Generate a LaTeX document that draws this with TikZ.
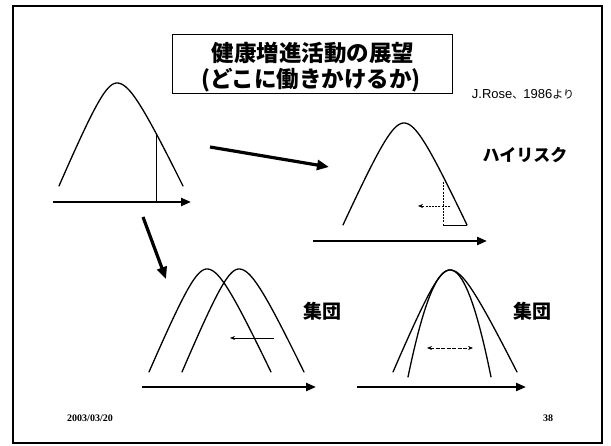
\documentclass[tikz,border=0pt]{standalone}
\usepackage{fontspec}
\usetikzlibrary{arrows.meta}
\newfontfamily\jp{Noto Sans CJK JP}
\newfontfamily\lsans{Liberation Sans}
\newfontfamily\lserif{Liberation Serif}
% #1 peak x, #2 peak y, #3 left half-width, #4 right half-width, #5 height, #6 roundness of top
\newcommand\bellcurve[6]{%
  \draw[curve] plot[domain=-1:1,samples=81,smooth]
    ({#1+(\x<0?#3:#4)*\x},{#2+#5*(sqrt(#6*#6+\x*\x)-#6)/(sqrt(#6*#6+1)-#6)});}
\begin{document}
\begin{tikzpicture}[x=1pt,y=-1pt,
  curve/.style={line width=1.3pt,line cap=round},
  axis/.style={line width=2.2pt,-{Triangle[length=10pt,width=8pt]}},
  bigarrow/.style={line width=3.2pt,-{Triangle[length=12pt,width=10pt]}},
  thinline/.style={line width=0.6pt},
  dashline/.style={line width=0.6pt,dash pattern=on 2pt off 1.2pt},
  shiftarrow/.style={line width=0.8pt,-{Stealth[length=5pt,width=4pt]}},
  spreadarrow/.style={line width=0.8pt,dash pattern=on 4pt off 1.5pt,{Stealth[length=5pt,width=4pt]}-{Stealth[length=5pt,width=4pt]}},
  titlebox/.style={draw,line width=0.8pt,minimum width=280pt,minimum height=59pt,inner sep=0pt},
  titletext/.style={font=\jp\bfseries\fontsize{22.5}{24}\selectfont,inner sep=0pt},
  jplabel/.style={font=\jp\bfseries,inner sep=0pt},
  footer/.style={font=\lserif\bfseries\fontsize{10}{11}\selectfont,inner sep=0pt}]
\useasboundingbox (0,0) rectangle (611,446);
% frame
\draw[line width=2pt] (13,6) rectangle (602,443);
% title
\node[titlebox] (title) at (312,63.5) {};
\node[titletext] (t1) at (313,53) {健康増進活動の展望};
\node[titletext] (t2) at (311,80) {(どこに働きかけるか)};
\node[inner sep=0pt] (src) at (523,94) {{\lsans\fontsize{13}{14}\selectfont J.Rose}{\jp\fontsize{11}{13}\selectfont 、}{\lsans\fontsize{13}{14}\selectfont 1986}{\jp\fontsize{11}{13}\selectfont より}};
% first distribution
\bellcurve{117}{83}{58}{66}{103}{0.3}
\coordinate (ax1s) at (53,202);
\coordinate (ax1e) at (191,202);
\draw[axis] (ax1s) -- (ax1e);
\coordinate (cut1t) at (156,134);
\coordinate (cut1b) at (156,202);
\draw[thinline] (cut1t) -- (cut1b);
% big arrows
\coordinate (b1s) at (210,147);
\coordinate (b1e) at (329,167);
\draw[bigarrow] (b1s) -- (b1e);
\coordinate (b2s) at (143,217);
\coordinate (b2e) at (166,279);
\draw[bigarrow] (b2s) -- (b2e);
% high risk
\bellcurve{404}{123}{61}{63}{102}{0.3}
\coordinate (ax2s) at (313,241);
\coordinate (ax2e) at (487,241);
\draw[axis] (ax2s) -- (ax2e);
\coordinate (hrt) at (443,182);
\coordinate (hrb) at (443,225);
\coordinate (hrr) at (467,225);
\draw[dashline] (hrt) -- (hrb);
\draw[thinline] (hrb) -- (hrr);
\coordinate (hras) at (450,206);
\coordinate (hrae) at (418,206);
\draw[dashline,-{Stealth[length=5pt,width=4pt]}] (hras) -- (hrae);
\node[jplabel,font=\jp\bfseries\fontsize{17}{18}\selectfont] (hr) at (525,155) {ハイリスク};
% population shift
\bellcurve{207}{269}{58}{64}{103}{0.3}
\bellcurve{239}{269}{57}{65}{103}{0.3}
\coordinate (ax3s) at (142,387);
\coordinate (ax3e) at (316,387);
\draw[axis] (ax3s) -- (ax3e);
\coordinate (sh1) at (274,338);
\coordinate (sh2) at (230,338);
\draw[shiftarrow] (sh1) -- (sh2);
\node[jplabel,font=\jp\bfseries\fontsize{19}{20}\selectfont] (pop1) at (322,311) {集団};
% population spread
\bellcurve{450}{270}{57}{67}{102}{0.3}
\bellcurve{450}{270}{42}{41}{107}{2}
\coordinate (ax4s) at (357,387);
\coordinate (ax4e) at (526,387);
\draw[axis] (ax4s) -- (ax4e);
\coordinate (sp1) at (427,348);
\coordinate (sp2) at (473,348);
\draw[spreadarrow] (sp1) -- (sp2);
\node[jplabel,font=\jp\bfseries\fontsize{19}{20}\selectfont] (pop2) at (532,311) {集団};
% footer
\node[footer] (date) at (90,418) {2003/03/20};
\node[footer] (page) at (548,418) {38};
\end{tikzpicture}
\end{document}
